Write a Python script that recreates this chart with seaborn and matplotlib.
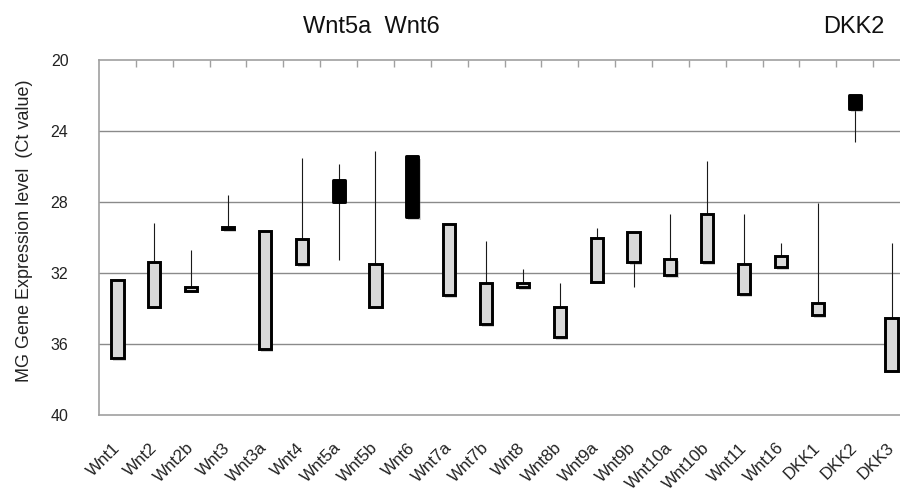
import numpy as np
import matplotlib
matplotlib.use("Agg")
import matplotlib.pyplot as plt
import matplotlib.patheffects as pe
import seaborn as sns

# Ct values per gene: box = interquartile-style range, whisker = full range
genes = ["Wnt1", "Wnt2", "Wnt2b", "Wnt3", "Wnt3a", "Wnt4", "Wnt5a", "Wnt5b",
         "Wnt6", "Wnt7a", "Wnt7b", "Wnt8", "Wnt8b", "Wnt9a", "Wnt9b", "Wnt10a",
         "Wnt10b", "Wnt11", "Wnt16", "DKK1", "DKK2", "DKK3"]
box_lo = [32.4, 31.4, 32.8, 29.4, 29.65, 30.1, 26.8, 31.5, 25.45, 29.25, 32.6,
          32.6, 33.9, 30.05, 29.7, 31.2, 28.7, 31.5, 31.05, 33.7, 22.0, 34.55]
box_hi = [36.8, 33.9, 33.0, 29.55, 36.3, 31.5, 28.0, 33.9, 28.85, 33.25, 34.9,
          32.8, 35.6, 32.5, 31.4, 32.15, 31.4, 33.2, 31.7, 34.4, 22.8, 37.5]
ct_min = [32.4, 29.2, 30.7, 27.65, 29.65, 25.55, 25.9, 25.15, 25.45, 29.25, 30.2,
          31.8, 32.55, 29.5, 29.7, 28.7, 25.7, 28.7, 30.35, 28.1, 22.0, 30.35]
ct_max = [36.8, 33.9, 33.0, 29.55, 36.3, 31.5, 31.3, 33.9, 28.85, 33.25, 34.9,
          32.8, 35.6, 32.5, 32.8, 32.15, 31.4, 33.2, 31.7, 34.4, 24.65, 37.5]
highlight = ["Wnt5a", "Wnt6", "DKK2"]
yticks = [20, 24, 28, 32, 36, 40]

sns.set_theme(style="white")
plt.rcParams["font.family"] = ["Liberation Sans", "DejaVu Sans"]

fig = plt.figure(figsize=(9, 4.91), dpi=100)
W, H = 900, 491
left, right, top, bottom = 99, 910, 59.5, 415
ax = fig.add_axes([left / W, 1 - bottom / H, (right - left) / W, (bottom - top) / H])

heights = np.array(box_hi) - np.array(box_lo)
x = np.arange(len(genes))

# whiskers drawn first so the boxes sit on top
ax.vlines(x, ct_min, ct_max, color="#1a1a1a", linewidth=0.8, zorder=2)

sns.barplot(x=genes, y=heights, bottom=box_lo, color="#d9d9d9", errorbar=None,
            width=0.33, edgecolor="black", linewidth=2.1, saturation=1,
            ax=ax, zorder=3)

shadow = [pe.SimplePatchShadow(offset=(1.5, -2.0), shadow_rgbFace="#808080", alpha=0.35),
          pe.Normal()]
for g, patch in zip(genes, ax.patches):
    patch.set_zorder(3)
    patch.set_path_effects(shadow)
    if g in highlight:
        patch.set_facecolor("black")
        patch.set_joinstyle("round")

ax.set_xlim(-0.5, len(genes) - 0.5)
ax.set_ylim(40, 20)
ax.set_yticks(yticks)
ax.set_yticklabels([str(t) for t in yticks], fontsize=11.5, color="#222222")

# horizontal gridlines
for t in yticks[1:-1]:
    ax.axhline(t, color="#8a8a8a", linewidth=1.0, zorder=1)

for side in ["top", "left", "bottom"]:
    ax.spines[side].set_color("#a0a0a0")
    ax.spines[side].set_linewidth(1.2)
ax.spines["right"].set_visible(False)

ax.set_xticks(x)
ax.set_xticklabels(genes, rotation=45, ha="right", va="center",
                   rotation_mode="anchor", fontsize=12.25, color="#222222")
ax.set_xticks(np.arange(0.5, len(genes) - 0.5, 1.0), minor=True)
ax.tick_params(axis="x", which="major", length=0, pad=22, top=False, bottom=True)
ax.tick_params(axis="x", which="minor", length=5, width=1.0, color="#a0a0a0",
               direction="in", top=True, bottom=False)
ax.tick_params(axis="y", which="major", length=0, pad=22)

ax.set_xlabel("")
ax.set_ylabel("MG Gene Expression level  (Ct value)", fontsize=13, color="#222222")
ax.yaxis.set_label_coords(-0.0814, 0.517)

fig.text(371 / W, 1 - 27 / H, "Wnt5a  Wnt6", ha="center", va="center",
         fontsize=17, color="#111111")
fig.text(854 / W, 1 - 27 / H, "DKK2", ha="center", va="center",
         fontsize=17, color="#111111")

fig.savefig("out.png", dpi=100)
